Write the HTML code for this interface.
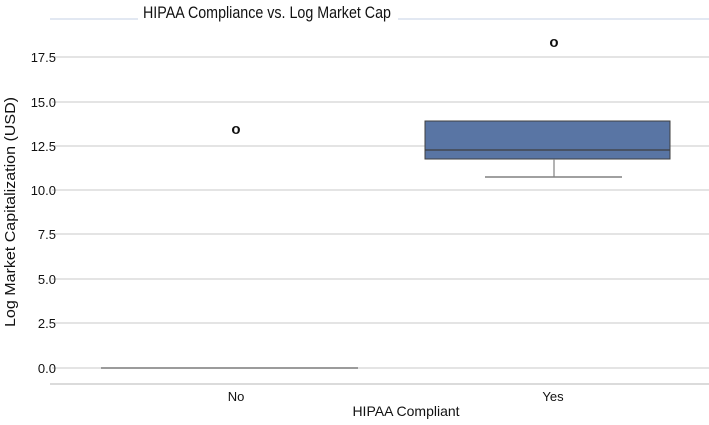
<!DOCTYPE html>
<html><head><style>
body{margin:0;background:#fff;}
svg text{font-family:"Liberation Sans",sans-serif;fill:#111;}
</style></head><body>
<svg width="709" height="420" xmlns="http://www.w3.org/2000/svg">
<line x1="50" y1="19" x2="138" y2="19" stroke="#c6d2e6" stroke-width="1"/>
<line x1="398" y1="19" x2="709" y2="19" stroke="#c6d2e6" stroke-width="1"/>
<text x="267" y="18" font-size="17" text-anchor="middle" textLength="248" lengthAdjust="spacingAndGlyphs">HIPAA Compliance vs. Log Market Cap</text>
<g stroke="#dcdcdc" stroke-width="1.5">
<line x1="52" y1="57" x2="709" y2="57"/>
<line x1="52" y1="102" x2="709" y2="102"/>
<line x1="52" y1="146" x2="709" y2="146"/>
<line x1="52" y1="190" x2="709" y2="190"/>
<line x1="52" y1="234" x2="709" y2="234"/>
<line x1="52" y1="279" x2="709" y2="279"/>
<line x1="52" y1="323" x2="709" y2="323"/>
<line x1="52" y1="368" x2="709" y2="368"/>
</g>
<line x1="50" y1="384" x2="709" y2="384" stroke="#cfcfcf" stroke-width="1.5"/>
<g font-size="13" text-anchor="end">
<text x="56" y="62">17.5</text>
<text x="56" y="107">15.0</text>
<text x="56" y="151">12.5</text>
<text x="56" y="195">10.0</text>
<text x="56" y="239">7.5</text>
<text x="56" y="284">5.0</text>
<text x="56" y="328">2.5</text>
<text x="56" y="373">0.0</text>
</g>
<text transform="translate(15,212) rotate(-90)" font-size="15" text-anchor="middle" textLength="230" lengthAdjust="spacingAndGlyphs">Log Market Capitalization (USD)</text>
<line x1="101" y1="368" x2="358" y2="368" stroke="#808080" stroke-width="1.5"/>
<text x="236" y="134" font-size="15" font-weight="bold" text-anchor="middle">o</text>
<rect x="425" y="121" width="245" height="38" fill="#5975a4" stroke="#3f3f3f" stroke-width="1"/>
<line x1="425" y1="150" x2="670" y2="150" stroke="#3f3f3f" stroke-width="1.2"/>
<line x1="554" y1="159" x2="554" y2="177" stroke="#808080" stroke-width="1.2"/>
<line x1="485" y1="177" x2="622" y2="177" stroke="#808080" stroke-width="1.5"/>
<text x="554" y="47" font-size="15" font-weight="bold" text-anchor="middle">o</text>
<text x="236" y="401" font-size="13" text-anchor="middle">No</text>
<text x="553" y="401" font-size="13" text-anchor="middle">Yes</text>
<text x="406" y="416" font-size="14" text-anchor="middle">HIPAA Compliant</text>
</svg>
</body></html>
